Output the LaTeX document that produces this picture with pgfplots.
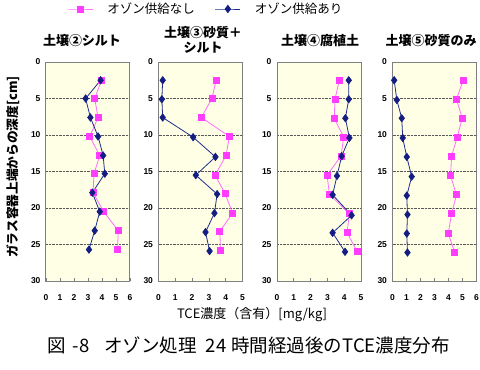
\documentclass[border=0pt]{standalone}
\usepackage{fontspec}
\setmainfont{Noto Sans CJK JP}
\newfontfamily\numfont{Liberation Sans}
\usepackage{pgfplots}
\pgfplotsset{compat=1.18}
\definecolor{pinkm}{RGB}{255,60,255}
\definecolor{pinkl}{RGB}{255,110,255}
\definecolor{bluem}{RGB}{20,30,130}
\definecolor{bluel}{RGB}{30,45,140}
\definecolor{bgc}{RGB}{255,255,229}
\definecolor{framec}{RGB}{128,128,128}
\pgfplotsset{
 panel/.style={
  scale only axis, width=84pt, height=219pt,
  anchor=south west,
  ymin=0, ymax=30, y dir=reverse,
  ytick={0,5,...,30},
  ymajorgrids, grid style={densely dotted, black!65, line width=0.6pt},
  axis background/.style={fill=bgc},
  axis line style={framec, line width=1pt},
  xmin=0,
  tick align=inside,
  major tick length=3pt,
  xtick pos=bottom, ytick pos=left,
  ytick style={draw=none},
  xtick style={framec, line width=0.8pt},
  /pgf/number format/assume math mode=true,
  tick label style={font=\numfont\bfseries\fontsize{8.5}{10}\selectfont},
  yticklabel style={xshift=-2pt},
  xticklabel style={yshift=-10pt},
 },
 pinkser/.style={color=pinkl, line width=0.8pt, mark=square*, mark size=3pt, mark options={fill=pinkm, draw=pinkm, solid}},
 blueser/.style={color=bluel, line width=0.8pt, mark=diamond*, mark size=3.6pt, mark options={fill=bluem, draw=bluem, solid}},
}
\begin{document}
\begin{tikzpicture}
\path[use as bounding box] (0,0) rectangle (480pt,-370pt);
% Panel 1
\begin{axis}[panel, at={(46pt,-281pt)}, xmax=6, xtick={0,1,...,6},
  legend columns=2,
  legend style={at={(0.22,1.242)}, anchor=west, draw=none, fill=none,
    font=\fontsize{12.5}{14}\selectfont,
    /tikz/every odd column/.append style={column sep=12pt},
    /tikz/every even column/.append style={column sep=18pt}},
  legend image code/.code={\draw[mark repeat=2,mark phase=2] plot coordinates {(0pt,0pt) (12.5pt,0pt) (25pt,0pt)};}]
\addplot[pinkser] coordinates {(3.96,2.5) (3.48,5.0) (3.72,7.6) (3.12,10.2) (3.84,12.8) (3.43,15.3) (3.36,17.9) (4.12,20.5) (5.16,23.1) (5.11,25.7)};
\addlegendentry{オゾン供給なし}
\addplot[blueser] coordinates {(3.9,2.5) (2.83,5.0) (3.17,7.6) (3.72,10.2) (4.08,12.8) (4.2,15.3) (3.31,17.9) (3.84,20.5) (3.48,23.1) (3.07,25.7)};
\addlegendentry{オゾン供給あり}
\end{axis}
% Panel 2
\begin{axis}[panel, at={(158.5pt,-281pt)}, xmax=5, xtick={0,1,...,5}]
\addplot[pinkser] coordinates {(3.43,2.5) (3.18,5.0) (2.55,7.6) (4.22,10.2) (4.02,12.8) (3.37,15.5) (3.96,18.0) (4.41,20.7) (3.65,23.2) (3.69,25.8)};
\addplot[blueser] coordinates {(0.25,2.5) (0.2,5.1) (0.25,7.6) (2.06,10.3) (3.39,13.0) (2.22,15.5) (3.49,18.1) (3.33,20.7) (2.8,23.3) (3.04,25.9)};
\end{axis}
% Panel 3
\begin{axis}[panel, at={(277pt,-281pt)}, xmax=5, xtick={0,1,...,5}]
\addplot[pinkser] coordinates {(3.71,2.5) (3.45,5.1) (3.41,7.7) (3.97,10.3) (3.81,12.9) (2.98,15.5) (3.12,18.1) (4.31,20.8) (4.17,23.4) (4.76,25.9)};
\addplot[blueser] coordinates {(4.27,2.5) (4.27,5.1) (4.07,7.7) (4.31,10.4) (3.85,12.9) (3.57,15.6) (3.31,18.2) (4.44,21.0) (3.31,23.4) (4.05,26.0)};
\end{axis}
% Panel 4
\begin{axis}[panel, at={(392.5pt,-281pt)}, xmax=6, xtick={0,1,...,6}]
\addplot[pinkser] coordinates {(5.05,2.5) (4.57,5.1) (4.98,7.7) (4.62,10.3) (4.22,12.9) (4.15,15.6) (4.57,18.2) (4.22,20.8) (3.98,23.5) (4.45,26.1)};
\addplot[blueser] coordinates {(0.12,2.5) (0.31,5.2) (0.66,7.7) (0.73,10.4) (1.02,13.0) (1.37,15.7) (1.02,18.3) (1.07,20.9) (1.02,23.5) (1.07,26.1)};
\end{axis}
% Titles
\node[font=\bfseries\fontsize{13}{15}\selectfont] at (82pt,-41pt) {土壌②シルト};
\node[font=\bfseries\fontsize{13}{15}\selectfont, align=center] at (203pt,-39.5pt) {土壌③砂質＋\\シルト};
\node[font=\bfseries\fontsize{13}{15}\selectfont] at (320pt,-41pt) {土壌④腐植土};
\node[font=\bfseries\fontsize{13}{15}\selectfont] at (431pt,-41pt) {土壌⑤砂質のみ};
% Axis labels
\node[rotate=90, font=\bfseries\fontsize{12.7}{14}\selectfont] at (13pt,-167pt) {ガラス容器上端からの深度[cm]};
\node[font=\fontsize{13}{15}\selectfont] at (252pt,-315pt) {TCE濃度（含有）[mg/kg]};
\node[font=\fontsize{18.5}{20}\selectfont] at (248.5pt,-345pt) {図\hspace{7pt}-8\hspace{15pt}オゾン処理\hspace{9pt}24\hspace{5pt}時間経過後のTCE濃度分布};
\end{tikzpicture}
\end{document}
